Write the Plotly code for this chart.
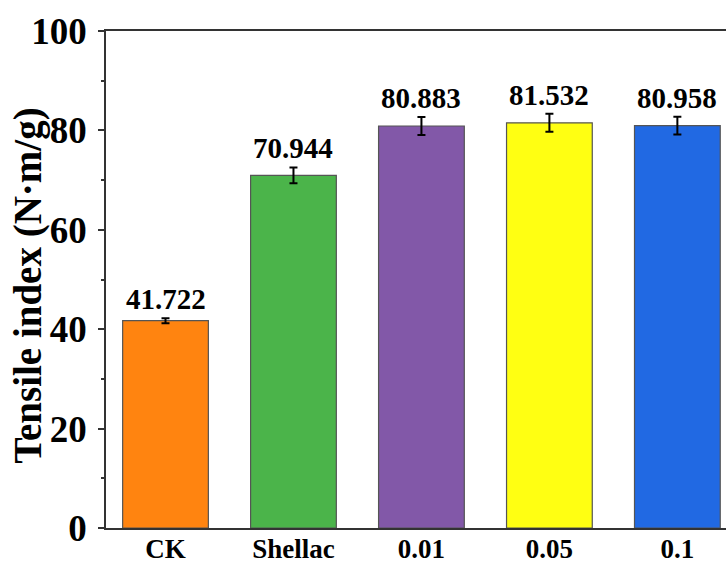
import plotly.graph_objects as go

# Tensile index by treatment
categories = ["CK", "Shellac", "0.01", "0.05", "0.1"]
values = [41.722, 70.944, 80.883, 81.532, 80.958]
errors = [0.5, 1.6, 1.8, 1.8, 1.8]
bar_colors = ["#FF8410", "#4BB44A", "#8258A8", "#FFFF12", "#2169E3"]
y_ticks = [0, 20, 40, 60, 80, 100]

FONT = "Liberation Serif, Times New Roman, serif"

fig = go.Figure()
fig.add_trace(go.Bar(
    x=categories,
    y=values,
    width=0.67,
    marker=dict(color=bar_colors, line=dict(color="#555555", width=1.2)),
    error_y=dict(type="data", array=errors, visible=True,
                 color="black", thickness=2, width=4),
    hoverinfo="x+y",
))

# value labels above the error bars (x given as category index)
for i, (v, e) in enumerate(zip(values, errors)):
    fig.add_annotation(
        x=i, y=v + e, text=f"{v:.3f}", showarrow=False,
        yanchor="bottom", yshift=1,
        font=dict(family=FONT, size=29, color="black", weight="bold"),
    )

# y-axis title
fig.add_annotation(
    xref="paper", yref="paper", x=0, y=0.488, xshift=-78,
    text="Tensile index (N·m/g)", textangle=-90, showarrow=False,
    xanchor="center", yanchor="middle",
    font=dict(family=FONT, size=39, color="black", weight="bold"),
)

fig.update_layout(
    width=726, height=563,
    margin=dict(l=106, r=0, t=31, b=35),
    paper_bgcolor="white", plot_bgcolor="white",
    showlegend=False,
    font=dict(family=FONT, color="black"),
    xaxis=dict(
        range=[-0.465, 4.38],
        showline=True, mirror=True, linecolor="#333333", linewidth=1.5,
        ticks="", showgrid=False, automargin=False,
        tickfont=dict(family=FONT, size=27, color="black", weight="bold"),
        ticklabelstandoff=-4,
    ),
    yaxis=dict(
        range=[0, 100],
        tickvals=y_ticks,
        showline=True, mirror=False, linecolor="#333333", linewidth=1.5,
        ticks="outside", ticklen=6, tickwidth=1.5, tickcolor="#333333",
        minor=dict(dtick=10, ticks="outside", ticklen=3, tickwidth=1.5,
                   tickcolor="#333333", showgrid=False),
        showgrid=False, zeroline=False, automargin=False,
        tickfont=dict(family=FONT, size=37, color="black", weight="bold"),
        ticklabelstandoff=4,
    ),
)

fig.write_html("out.html")
